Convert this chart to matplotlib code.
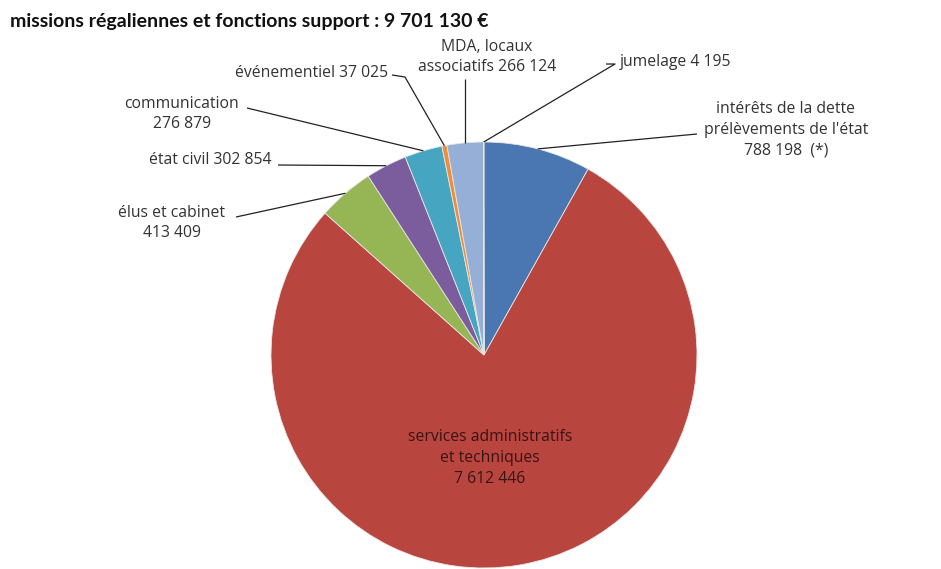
import matplotlib
matplotlib.use("Agg")
import matplotlib.pyplot as plt
import numpy as np

plt.rcParams['font.family'] = ['Open Sans', 'DejaVu Sans']

title = "missions régaliennes et fonctions support : 9 701 130 €"
categories = ["intérêts de la dette\nprélèvements de l'état\n788 198  (*)",
              "services administratifs\net techniques\n7 612 446",
              "élus et cabinet\n413 409",
              "état civil 302 854",
              "communication\n276 879",
              "événementiel 37 025",
              "MDA, locaux\nassociatifs 266 124",
              "jumelage 4 195"]
values = [788198, 7612446, 413409, 302854, 276879, 37025, 266124, 4195]
colors = ["#4a77b1", "#b9453f", "#96b655", "#7b5d9d", "#46a6c1", "#f08d3c", "#95afd6", "#2c4d75"]

W, H = 941, 569
fig = plt.figure(figsize=(W / 100, H / 100), dpi=100)
ax = fig.add_axes([0, 0, 1, 1])

cx, cy, R = 484, H - 355, 213
wedges, _ = ax.pie(values, colors=colors, startangle=90, counterclock=False,
                   center=(cx, cy), radius=R, frame=True,
                   wedgeprops=dict(edgecolor="#e6e6e6", linewidth=0.6))
ax.set_xlim(0, W)
ax.set_ylim(0, H)
ax.set_aspect('equal')
ax.axis('off')

ax.text(10, H - 21, title, fontsize=14, fontweight='bold', color='#111111',
        ha='left', va='center', family=['Lato', 'DejaVu Sans'])

txtc = '#333333'
fs = 11.3

def anchor(i):
    w = wedges[i]
    a = np.deg2rad((w.theta1 + w.theta2) / 2)
    return cx + R * np.cos(a), cy + R * np.sin(a)

layout = {
    0: dict(xy=(786, 130), ha='center', path=[(697, 134)]),
    2: dict(xy=(172, 223), ha='center', path=[(236, 217)]),
    3: dict(xy=(272, 160), ha='right', path=[(278, 165)]),
    4: dict(xy=(182, 114), ha='center', path=[(247, 108)]),
    5: dict(xy=(388, 73), ha='right', path=[(392, 75), (405, 77)]),
    6: dict(xy=(487, 57), ha='center', path=[None]),
    7: dict(xy=(620, 62), ha='left', path=[(606, 64), (615, 64)]),
}

for i, d in layout.items():
    x, y = d['xy']
    ax.text(x, H - y, categories[i], fontsize=fs, color=txtc, ha=d['ha'],
            va='center', linespacing=1.4, multialignment='center')
    ax_, ay_ = anchor(i)
    pts = d['path']
    if pts[0] is None:
        xs = [ax_, ax_]
        ys = [H - 79, ay_]
    else:
        xs = [p[0] for p in pts] + [ax_]
        ys = [H - p[1] for p in pts] + [ay_]
    ax.plot(xs, ys, color='#222222', lw=0.9, solid_capstyle='butt')

ax.text(490, H - 458, categories[1], fontsize=fs, color='#3a1414', ha='center',
        va='center', linespacing=1.4)

fig.savefig("out.png", dpi=100, facecolor='white')
